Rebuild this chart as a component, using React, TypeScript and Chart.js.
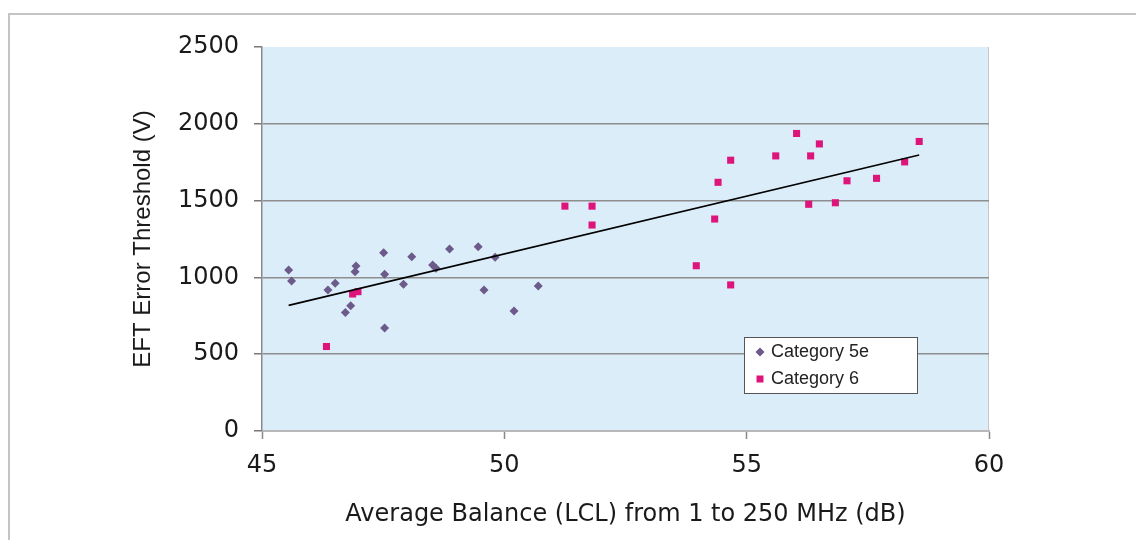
import React, { useEffect, useRef } from "react";
import { Chart, registerables } from "chart.js";

Chart.register(...registerables);

// ---- data ----
const seriesNames = ["Category 5e", "Category 6"];

const cat5eX = [45.55, 45.61, 46.36, 46.51, 46.72, 46.83, 46.94, 46.92, 47.51, 47.53, 47.53, 47.92, 48.09, 48.52, 48.59, 48.87, 49.46, 49.58, 49.81, 50.2, 50.7];
const cat5eY = [1048, 977, 918, 962, 771, 816, 1074, 1037, 1161, 1020, 670, 955, 1135, 1081, 1060, 1185, 1200, 918, 1131, 782, 944];

const cat6X = [46.87, 46.98, 46.33, 51.25, 51.81, 51.81, 53.96, 54.34, 54.41, 54.67, 54.67, 55.6, 56.03, 56.32, 56.28, 56.5, 56.83, 57.07, 57.68, 58.26, 58.56];
const cat6Y = [892, 907, 550, 1464, 1464, 1341, 1076, 1380, 1619, 1763, 951, 1791, 1937, 1791, 1476, 1869, 1486, 1629, 1645, 1752, 1885];

const trendX = [45.55, 58.56];
const trendY = [818, 1797];

const xTickValues = [45, 50, 55, 60];
const yTickValues = [0, 500, 1000, 1500, 2000, 2500];

const xTitle = "Average Balance (LCL) from 1 to 250 MHz (dB)";
const yTitle = "EFT Error Threshold (V)";

const colors5e = "#6B5A8A";
const colors6 = "#DD1479";

const toPoints = (xs: number[], ys: number[]) => xs.map((x, i) => ({ x, y: ys[i] }));

const decorPlugin = {
  id: "decor",
  beforeDraw(chart: any) {
    const { ctx, chartArea: a } = chart;
    ctx.save();
    ctx.fillStyle = "#ffffff";
    ctx.fillRect(0, 0, chart.width, chart.height);
    ctx.fillStyle = "#DCEDFA";
    ctx.fillRect(a.left, a.top, a.right - a.left, a.bottom - a.top);
    // outer frame
    ctx.strokeStyle = "#c4c4c4";
    ctx.lineWidth = 2;
    ctx.beginPath();
    ctx.moveTo(9, chart.height);
    ctx.lineTo(9, 14);
    ctx.lineTo(chart.width, 14);
    ctx.stroke();
    // right plot border
    ctx.strokeStyle = "#c8c8c8";
    ctx.lineWidth = 1;
    ctx.beginPath();
    ctx.moveTo(a.right - 0.5, a.top);
    ctx.lineTo(a.right - 0.5, a.bottom);
    ctx.stroke();
    ctx.restore();
  },
  afterDraw(chart: any) {
    const { ctx } = chart;
    const bx = 744, by = 337, bw = 173, bh = 56;
    ctx.save();
    ctx.fillStyle = "#ffffff";
    ctx.fillRect(bx, by, bw, bh);
    ctx.strokeStyle = "#555555";
    ctx.lineWidth = 1;
    ctx.strokeRect(bx + 0.5, by + 0.5, bw, bh);
    ctx.font = "18px 'Liberation Sans', Arial, sans-serif";
    ctx.textBaseline = "middle";
    const rows = [by + 15, by + 42];
    const mx = bx + 16;
    ctx.fillStyle = colors5e;
    ctx.beginPath();
    ctx.moveTo(mx - 4.5, rows[0]);
    ctx.lineTo(mx, rows[0] - 4.5);
    ctx.lineTo(mx + 4.5, rows[0]);
    ctx.lineTo(mx, rows[0] + 4.5);
    ctx.closePath();
    ctx.fill();
    ctx.fillStyle = colors6;
    ctx.fillRect(mx - 3.5, rows[1] - 3.5, 7, 7);
    ctx.fillStyle = "#222222";
    ctx.fillText(seriesNames[0], bx + 27, rows[0]);
    ctx.fillText(seriesNames[1], bx + 27, rows[1]);
    ctx.restore();
  },
};

export default function App() {
  const ref = useRef<HTMLCanvasElement | null>(null);

  useEffect(() => {
    if (!ref.current) return;
    const chart = new Chart(ref.current, {
      type: "scatter",
      data: {
        datasets: [
          {
            label: "Trend",
            type: "line",
            data: toPoints(trendX, trendY),
            borderColor: "#000000",
            borderWidth: 1.6,
            pointRadius: 0,
            showLine: true,
            order: 0,
          } as any,
          {
            label: seriesNames[0],
            data: toPoints(cat5eX, cat5eY),
            pointStyle: "rectRot",
            pointRadius: 4.5,
            pointBackgroundColor: colors5e,
            pointBorderColor: colors5e,
            pointBorderWidth: 0,
            order: 2,
          },
          {
            label: seriesNames[1],
            data: toPoints(cat6X, cat6Y),
            pointStyle: "rect",
            pointRadius: 5,
            pointBackgroundColor: colors6,
            pointBorderColor: colors6,
            pointBorderWidth: 0,
            order: 1,
          },
        ],
      },
      options: {
        responsive: false,
        animation: false,
        layout: { padding: { left: 0, top: 47, right: 147, bottom: 0 } },
        plugins: {
          legend: { display: false },
          tooltip: { enabled: false },
        },
        scales: {
          x: {
            type: "linear",
            min: 45,
            max: 60,
            afterFit: (s: any) => {
              s.height = 109;
            },
            afterBuildTicks: (s: any) => {
              s.ticks = xTickValues.map((v) => ({ value: v }));
            },
            ticks: {
              font: { family: "'DejaVu Sans', sans-serif", size: 24 },
              color: "#1a1a1a",
              padding: 12,
              maxRotation: 0,
              callback: (v: any) => String(v),
            },
            grid: {
              drawOnChartArea: false,
              drawTicks: true,
              tickLength: 8,
              tickColor: "#888888",
              tickWidth: 1.5,
            },
            border: { display: true, color: "#b8b8b8", width: 2 },
            title: {
              display: true,
              text: xTitle,
              font: { family: "'DejaVu Sans', sans-serif", size: 24 },
              color: "#1a1a1a",
              padding: { top: 0, bottom: 11 },
            },
          },
          y: {
            type: "linear",
            min: 0,
            max: 2500,
            afterFit: (s: any) => {
              s.width = 262;
            },
            afterBuildTicks: (s: any) => {
              s.ticks = yTickValues.map((v) => ({ value: v }));
            },
            ticks: {
              font: { family: "'DejaVu Sans', sans-serif", size: 24 },
              color: "#1a1a1a",
              padding: 15,
              callback: (v: any) => String(v),
            },
            grid: {
              color: (c: any) =>
                c.tick && (c.tick.value === 0 || c.tick.value === 2500) ? "rgba(0,0,0,0)" : "#8e8e8e",
              lineWidth: 1.5,
              drawTicks: true,
              tickLength: 8,
              tickColor: "#777777",
              tickWidth: 1.5,
            },
            border: { display: true, color: "#8a8a8a", width: 1.5 },
            title: {
              display: true,
              text: yTitle,
              font: { family: "'Liberation Sans', Arial, sans-serif", size: 24 },
              color: "#1a1a1a",
              padding: { top: 129, bottom: 0 },
            },
          },
        },
      },
      plugins: [decorPlugin],
    });
    return () => chart.destroy();
  }, []);

  return (
    <div style={{ position: "fixed", left: 0, top: 0, width: 1136, height: 540, background: "#fff" }}>
      <canvas ref={ref} width={1136} height={540} style={{ display: "block" }} />
    </div>
  );
}
